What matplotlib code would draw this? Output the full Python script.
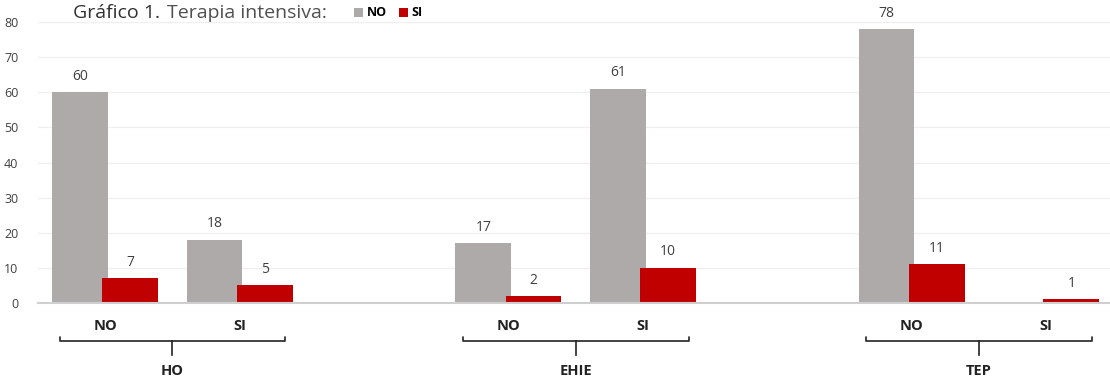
import numpy as np
import matplotlib.pyplot as plt
from matplotlib.transforms import blended_transform_factory

# data: three groups, each split into NO / SI, bars for Terapia intensiva NO / SI
groups = ['HO', 'EHIE', 'TEP']
subgroups = ['NO', 'SI']
ti_no = [60, 18, 17, 61, 78, 0]
ti_si = [7, 5, 2, 10, 11, 1]

gray = '#AEAAAA'
red = '#C00000'
plt.rcParams['font.family'] = ['Open Sans', 'DejaVu Sans']

fig = plt.figure(figsize=(11.1, 3.81), dpi=100)
ax = fig.add_axes([38 / 1110, 1 - 303 / 381, 1 - 38 / 1110, (303 - 22) / 381])

# one empty slot between groups
pos = np.array([3 * g + s for g in range(len(groups)) for s in range(len(subgroups))])
w = 0.415
off = 0.187
b_no = ax.bar(pos - off, ti_no, w, color=gray, zorder=2)
b_si = ax.bar(pos + off, ti_si, w, color=red, zorder=3)

for bars, vals in [(b_no, ti_no), (b_si, ti_si)]:
    for r, v in zip(bars, vals):
        if v > 0:
            ax.text(r.get_x() + r.get_width() / 2, v + 2.4, str(v), ha='center', va='bottom',
                    fontsize=10, color='#404040')

ax.set_xlim(-0.5, 7.475)
ax.set_ylim(0, 80)
ax.set_yticks(range(0, 81, 10))
ax.tick_params(axis='y', length=0, labelsize=9, labelcolor='#404040', pad=14)
ax.tick_params(axis='x', length=0)
ax.set_xticks([])
ax.yaxis.grid(True, color='#efefef', linewidth=0.9, zorder=0)
for s in ['top', 'right', 'left']:
    ax.spines[s].set_visible(False)
ax.spines['bottom'].set_color('#cfcfcf')
ax.spines['bottom'].set_linewidth(1.5)
ax.spines['bottom'].set_zorder(4)

# category labels and group brackets below the axis
tr = blended_transform_factory(ax.transData, fig.transFigure)
for p, name in zip(pos, subgroups * len(groups)):
    ax.text(p, 1 - 326 / 381, name, transform=tr, ha='center', va='center',
            fontsize=10.5, fontweight='bold', color='#222222')
for g, name in enumerate(groups):
    c = 3 * g + 0.5
    x0, x1 = c - 0.84, c + 0.84
    yb, yt, yd = 1 - 341 / 381, 1 - 337 / 381, 1 - 355 / 381
    ax.plot([x0, x0, x1, x1], [yt, yb, yb, yt], transform=tr, color='#222222',
            lw=1.2, clip_on=False, solid_capstyle='round')
    ax.plot([c, c], [yb, yd], transform=tr, color='#222222', lw=1.2, clip_on=False)
    ax.text(c, 1 - 371 / 381, name, transform=tr, ha='center', va='center',
            fontsize=10.5, fontweight='bold', color='#222222')

# title and inline legend
fig.text(73 / 1110, 1 - 13 / 381, 'Gráfico 1.', ha='left', va='center', fontsize=14, color='#303030')
fig.text(167 / 1110, 1 - 13 / 381, 'Terapia intensiva:', ha='left', va='center', fontsize=14,
         color='#505050')
fig.legend([b_no, b_si], ['NO', 'SI'], loc='center left', bbox_to_anchor=(343 / 1110, 1 - 13 / 381),
           ncol=2, frameon=False, handlelength=0.7, handleheight=0.7, handletextpad=0.3,
           columnspacing=1.0, prop={'weight': 'bold', 'size': 9})

fig.savefig('out.png', dpi=100)
